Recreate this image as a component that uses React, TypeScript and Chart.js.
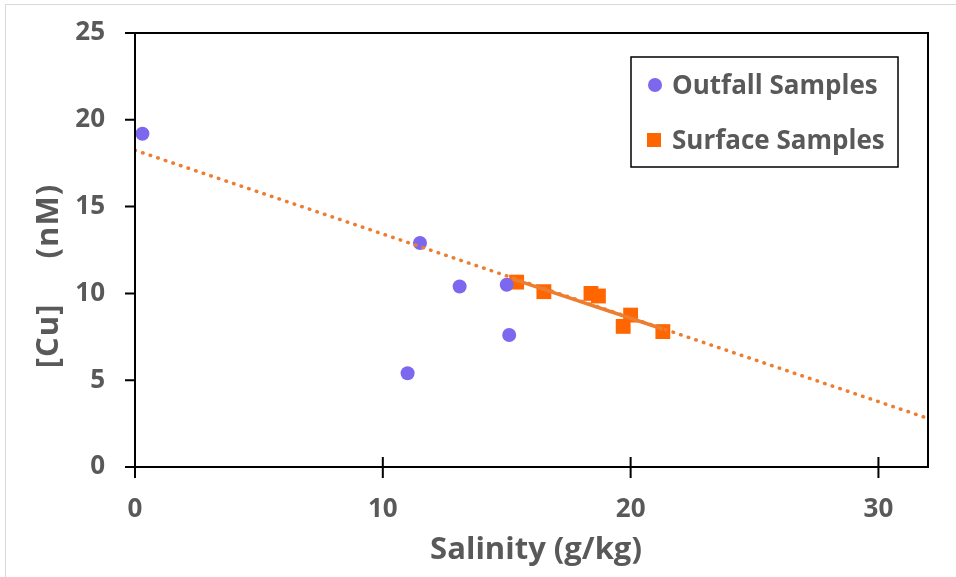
import React, { useEffect, useRef } from "react";
import { Chart, registerables } from "chart.js";

Chart.register(...registerables);

const outfallLabel = "Outfall Samples";
const surfaceLabel = "Surface Samples";
const xTitle = "Salinity (g/kg)";
const yTitle = "[Cu] (nM)";

const outfallX = [0.3, 11.5, 13.1, 15.0, 15.1, 11.0];
const outfallY = [19.2, 12.9, 10.4, 10.5, 7.6, 5.4];

const surfaceX = [15.4, 16.5, 18.4, 18.7, 20.0, 19.7, 21.3];
const surfaceY = [10.65, 10.1, 10.0, 9.85, 8.75, 8.1, 7.8];

const allTrendX = [0, 32];
const allTrendY = [18.25, 2.8];

const surfaceTrendX = [15.2, 21.3];
const surfaceTrendY = [10.85, 7.95];

const xTicks = [0, 10, 20, 30];
const yTicks = [0, 5, 10, 15, 20, 25];

const PURPLE = "#7B68EE";
const ORANGE = "#FF6600";
const TREND = "#ED7D31";
const TEXT = "#595959";
const FONT = "'Open Sans', 'DejaVu Sans', sans-serif";

const pts = (xs: number[], ys: number[]) => xs.map((x, i) => ({ x, y: ys[i] }));

const framePlugin = {
  id: "frame",
  beforeDraw(chart: any) {
    const ctx = chart.ctx;
    ctx.save();
    ctx.fillStyle = "#ffffff";
    ctx.fillRect(0, 0, chart.width, chart.height);
    ctx.strokeStyle = "#d9d9d9";
    ctx.lineWidth = 1;
    ctx.strokeRect(5.5, 4.5, 2000, 2000);
    ctx.restore();
  },
  afterDraw(chart: any) {
    const ctx = chart.ctx;
    const { left, right, top, bottom } = chart.chartArea;
    const xs = chart.scales.x;
    const ys = chart.scales.y;
    ctx.save();
    ctx.strokeStyle = "#000000";
    ctx.lineWidth = 2;
    ctx.beginPath();
    ctx.rect(left, top, right - left, bottom - top);
    ctx.stroke();
    ctx.beginPath();
    for (const v of xTicks) {
      const px = xs.getPixelForValue(v);
      ctx.moveTo(px, bottom - 10);
      ctx.lineTo(px, bottom + 11);
    }
    for (const v of yTicks) {
      const py = ys.getPixelForValue(v);
      ctx.moveTo(left - 10, py);
      ctx.lineTo(left, py);
    }
    ctx.stroke();

    // axis titles
    ctx.fillStyle = TEXT;
    ctx.font = `bold 31px ${FONT}`;
    ctx.textAlign = "center";
    ctx.textBaseline = "alphabetic";
    ctx.fillText(xTitle, 536, 559);
    ctx.save();
    ctx.translate(58, 276);
    ctx.rotate(-Math.PI / 2);
    ctx.font = `bold 31px ${FONT}`;
    try {
      (ctx as any).letterSpacing = "1px";
      (ctx as any).wordSpacing = "36px";
    } catch (e) {}
    ctx.fillText(yTitle, 0, 0);
    ctx.restore();

    // legend
    ctx.fillStyle = "#ffffff";
    ctx.fillRect(631, 57, 267, 110);
    ctx.strokeStyle = "#000000";
    ctx.lineWidth = 1.5;
    ctx.strokeRect(631, 57, 267, 110);
    ctx.fillStyle = PURPLE;
    ctx.beginPath();
    ctx.arc(655, 85, 7, 0, Math.PI * 2);
    ctx.fill();
    ctx.fillStyle = ORANGE;
    ctx.fillRect(647, 133, 14, 14);
    ctx.fillStyle = TEXT;
    ctx.font = `bold 26px ${FONT}`;
    ctx.textAlign = "left";
    ctx.fillText(outfallLabel, 672, 94);
    ctx.fillText(surfaceLabel, 672, 149);
    ctx.restore();
  },
};

export default function App() {
  const ref = useRef<HTMLCanvasElement | null>(null);
  useEffect(() => {
    if (!ref.current) return;
    const chart = new Chart(ref.current, {
      type: "scatter",
      data: {
        datasets: [
          {
            label: "All trend",
            data: pts(allTrendX, allTrendY),
            showLine: true,
            pointRadius: 0,
            borderColor: TREND,
            borderWidth: 3.5,
            borderDash: [0.5, 7.5],
            borderCapStyle: "round",
            order: 0,
          },
          {
            label: "Surface trend",
            data: pts(surfaceTrendX, surfaceTrendY),
            showLine: true,
            pointRadius: 0,
            borderColor: TREND,
            borderWidth: 3.5,
            order: 0,
          },
          {
            label: outfallLabel,
            data: pts(outfallX, outfallY),
            pointStyle: "circle",
            pointRadius: 7,
            backgroundColor: PURPLE,
            borderColor: PURPLE,
            borderWidth: 0,
            order: 1,
          },
          {
            label: surfaceLabel,
            data: pts(surfaceX, surfaceY),
            pointStyle: "rect",
            pointRadius: 10.5,
            backgroundColor: ORANGE,
            borderColor: ORANGE,
            borderWidth: 0,
            order: 1,
          },
        ],
      } as any,
      options: {
        animation: false,
        responsive: false,
        devicePixelRatio: 1,
        layout: { padding: { top: 33, right: 28, left: 0, bottom: 0 } },
        plugins: { legend: { display: false }, tooltip: { enabled: false } },
        scales: {
          x: {
            type: "linear",
            min: 0,
            max: 32,
            afterFit: (s: any) => {
              s.height = 110;
              s.paddingLeft = 0;
              s.paddingRight = 0;
            },
            afterBuildTicks: (s: any) => {
              s.ticks = xTicks.map((v) => ({ value: v }));
            },
            grid: { display: false, drawTicks: false },
            border: { display: false },
            ticks: {
              color: TEXT,
              font: { family: FONT, size: 26, weight: "bold" },
              padding: 27,
            },
          },
          y: {
            type: "linear",
            min: 0,
            max: 25,
            afterFit: (s: any) => {
              s.width = 135;
              s.paddingTop = 0;
              s.paddingBottom = 0;
            },
            afterBuildTicks: (s: any) => {
              s.ticks = yTicks.map((v) => ({ value: v }));
            },
            grid: { display: false, drawTicks: false },
            border: { display: false },
            ticks: {
              color: TEXT,
              font: { family: FONT, size: 26, weight: "bold" },
              padding: 30,
            },
          },
        },
      } as any,
      plugins: [framePlugin],
    });
    return () => chart.destroy();
  }, []);
  return (
    <div style={{ position: "fixed", left: 0, top: 0, width: 956, height: 577 }}>
      <canvas ref={ref} width={956} height={577} style={{ width: 956, height: 577 }} />
    </div>
  );
}
